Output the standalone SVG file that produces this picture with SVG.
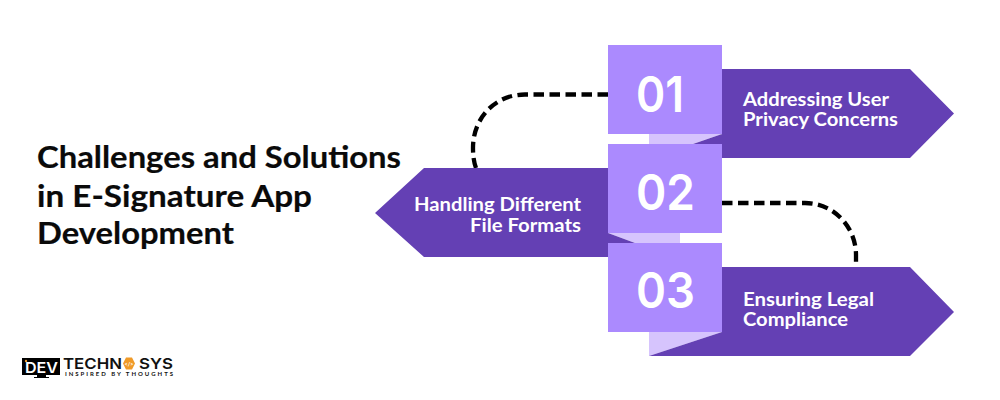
<svg xmlns="http://www.w3.org/2000/svg" width="1000" height="400" viewBox="0 0 1000 400">
<style>
text{font-family:"Lato","Noto Sans",sans-serif}
.title{font-size:31px;font-weight:700;fill:#0a0a0a;stroke:#0a0a0a;stroke-width:.2}
.arrow{fill:#6440b4}
.fold{fill:#d6c4fd}
.sq{fill:#ab8afe}
.num{font-size:50px;font-weight:600;fill:#fff;font-family:"Inter","Lato",sans-serif}
.lab{font-size:18px;font-weight:700;fill:#fff}
.dash{fill:none;stroke:#000;stroke-width:4.300;stroke-dasharray:10.500 5.500}
.lg{font-family:"Inter",sans-serif;font-size:15px;font-weight:600;fill:#111}
</style>
<rect width="1000" height="400" fill="#fff"/>
<g id="title">
<text class="title" x="37" y="168" textLength="364" lengthAdjust="spacingAndGlyphs">Challenges and Solutions</text>
<text class="title" x="37" y="207" textLength="275" lengthAdjust="spacingAndGlyphs">in E-Signature App</text>
<text class="title" x="37" y="244" textLength="197" lengthAdjust="spacingAndGlyphs">Development</text>
</g>
<g id="connectors">
<path class="dash" d="M608 94.500H525C495 94.500 473 118 473 148Q473 160 476 168"/>
<path class="dash" d="M722 203H805C835 203 856 228 856 255V267"/>
</g>
<g id="node-01">
<polygon class="fold" points="649,134 722,134 693,144 649,144"/>
<polygon class="arrow" points="722,69 910,69 954,113.500 910,158 722,158 722,134 693,144 722,144"/>
<rect class="sq" x="608" y="45" width="114" height="89"/>
<text class="num" x="636" y="112" textLength="48" lengthAdjust="spacingAndGlyphs">01</text>
<text class="lab" x="743" y="106" textLength="146" lengthAdjust="spacingAndGlyphs">Addressing User</text>
<text class="lab" x="743" y="126" textLength="155" lengthAdjust="spacingAndGlyphs">Privacy Concerns</text>
</g>
<g id="node-02">
<polygon class="fold" points="608,233 680,233 680,243 635,243"/>
<polygon class="arrow" points="608,168 424,168 375,213 424,257 608,257 608,233 635,243 608,243"/>
<rect class="sq" x="608" y="144" width="114" height="89"/>
<text class="num" x="636" y="209.500" textLength="59" lengthAdjust="spacingAndGlyphs">02</text>
<text class="lab" x="581" y="211" text-anchor="end" textLength="167" lengthAdjust="spacingAndGlyphs">Handling Different</text>
<text class="lab" x="581" y="232" text-anchor="end" textLength="111" lengthAdjust="spacingAndGlyphs">File Formats</text>
</g>
<g id="node-03">
<polygon class="fold" points="649,332 722,332 649,356"/>
<polygon class="arrow" points="722,267 910,267 954,312 910,356 649,356 722,332"/>
<rect class="sq" x="608" y="243" width="114" height="89"/>
<text class="num" x="636" y="308" textLength="59" lengthAdjust="spacingAndGlyphs">03</text>
<text class="lab" x="743" y="306" textLength="131" lengthAdjust="spacingAndGlyphs">Ensuring Legal</text>
<text class="lab" x="743" y="326" textLength="105" lengthAdjust="spacingAndGlyphs">Compliance</text>
</g>
<g id="logo">
<rect x="22" y="358" width="38" height="17" fill="#000"/>
<path d="M37 375h9v2h3v1H34v-1h3z" fill="#000"/>
<circle cx="26" cy="361" r="1.200" fill="#f09a28"/>
<text class="lg" x="25" y="373" style="fill:#fff" textLength="33" lengthAdjust="spacingAndGlyphs">DEV</text>
<text class="lg" x="63" y="369" textLength="59" lengthAdjust="spacingAndGlyphs">TECHN</text>
<polygon points="123,363.500 126,357.500 132,357.500 135,363.500 132,369.500 126,369.500" fill="#f09a28"/>
<text x="129" y="365.500" font-size="5.500" font-weight="700" fill="#fff" text-anchor="middle">&lt;/&gt;</text>
<text class="lg" x="139" y="369" textLength="34" lengthAdjust="spacingAndGlyphs">SYS</text>
<text x="65" y="375.500" font-size="6" font-weight="700" fill="#111" textLength="108" lengthAdjust="spacing">INSPIRED BY THOUGHTS</text>
</g>
</svg>
